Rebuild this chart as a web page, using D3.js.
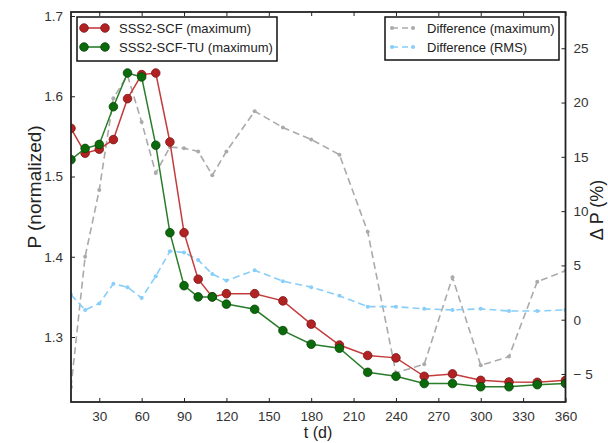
<!DOCTYPE html>
<html>
<head>
<meta charset="utf-8">
<script src="https://cdn.jsdelivr.net/npm/d3@7"></script>
<style>
  html, body { margin: 0; padding: 0; background: #fff; }
  svg { display: block; font-family: "Liberation Sans", Arial, sans-serif; }
</style>
</head>
<body>
<svg id="chart" width="608" height="443"></svg>
<script>
// Time in days
const days = [10, 20, 30, 40, 50, 60, 70, 80, 90, 100, 110, 120, 140, 160, 180, 200, 220, 240, 260, 280, 300, 320, 340, 360];

// Normalized P maxima
const scfMax = [1.560, 1.529, 1.534, 1.546, 1.597, 1.627, 1.629, 1.543, 1.430, 1.372, 1.350, 1.354,
                1.354, 1.345, 1.316, 1.290, 1.277, 1.274, 1.251, 1.254, 1.246, 1.244, 1.2435, 1.246];
const scfTuMax = [1.521, 1.535, 1.540, 1.587, 1.629, 1.624, 1.539, 1.430, 1.364, 1.350, 1.350, 1.341,
                  1.3345, 1.308, 1.291, 1.286, 1.256, 1.251, 1.242, 1.242, 1.238, 1.238, 1.2406, 1.242];

// Relative differences in percent
const diffMax = [-6.2, 5.8, 11.95, 20.4, 22.5, 18.2, 13.5, 15.9, 15.8, 15.5, 13.3, 15.5,
                 19.2, 17.7, 16.6, 15.2, 8.1, -4.9, -4.1, 3.9, -4.2, -3.4, 3.5, 4.5];
const diffRms = [2.3, 0.9, 1.5, 3.3, 3.0, 2.0, 4.0, 6.3, 6.2, 5.5, 4.2, 3.6,
                 4.55, 3.55, 3.0, 2.2, 1.2, 1.2, 1.0, 0.9, 1.0, 0.8, 0.8, 0.9];

// Tick values
const xTicks = [30, 60, 90, 120, 150, 180, 210, 240, 270, 300, 330, 360];
const yLeftTicks = [1.3, 1.4, 1.5, 1.6, 1.7];
const yRightTicks = [-5, 0, 5, 10, 15, 20, 25];

const svg = d3.select("#chart");
const box = { left: 71, right: 565.5, top: 12, bottom: 402 };

const x = d3.scaleLinear().domain([10, 360]).range([box.left, box.right]);
const yL = d3.scaleLinear().domain([1.219, 1.705]).range([box.bottom, box.top]);
const yR = d3.scaleLinear().domain([-7.58, 28.34]).range([box.bottom, box.top]);

svg.append("defs").append("clipPath").attr("id", "plotclip")
  .append("rect").attr("x", box.left).attr("y", box.top)
  .attr("width", box.right - box.left).attr("height", box.bottom - box.top);

const plot = svg.append("g").attr("clip-path", "url(#plotclip)");

// Difference series (right axis), dashed with small dots
const diffSeries = [
  { values: diffMax, color: "#aaaaaa" },
  { values: diffRms, color: "#87cefa" }
];
diffSeries.forEach(s => {
  const pts = days.map((d, i) => [d, s.values[i]]);
  plot.append("path")
    .attr("d", d3.line().x(p => x(p[0])).y(p => yR(p[1]))(pts))
    .attr("fill", "none").attr("stroke", s.color)
    .attr("stroke-width", 1.6).attr("stroke-dasharray", "7,4");
  plot.selectAll(null).data(pts).enter().append("circle")
    .attr("cx", p => x(p[0])).attr("cy", p => yR(p[1])).attr("r", 2)
    .attr("fill", s.color);
});

// P series (left axis), solid with round markers
const pSeries = [
  { values: scfMax, line: "#c43c3c", fill: "#b22222", edge: "#7e1515" },
  { values: scfTuMax, line: "#2a7d2a", fill: "#0b6b0b", edge: "#064406" }
];
pSeries.forEach(s => {
  const pts = days.map((d, i) => [d, s.values[i]]);
  plot.append("path")
    .attr("d", d3.line().x(p => x(p[0])).y(p => yL(p[1]))(pts))
    .attr("fill", "none").attr("stroke", s.line).attr("stroke-width", 1.5);
  plot.selectAll(null).data(pts).enter().append("circle")
    .attr("cx", p => x(p[0])).attr("cy", p => yL(p[1])).attr("r", 4.3)
    .attr("fill", s.fill).attr("stroke", s.edge).attr("stroke-width", 0.8);
});

// Axes with inward ticks
function styleAxis(g) {
  g.select(".domain").remove();
  g.selectAll(".tick line").attr("stroke", "#222").attr("stroke-width", 1);
  g.selectAll(".tick text").attr("fill", "#333").style("font-size", "13.5px")
    .style("font-family", "'Liberation Sans', Arial, sans-serif");
}

const xAxis = svg.append("g").attr("transform", `translate(0,${box.bottom})`)
  .call(d3.axisBottom(x).tickValues(xTicks).tickSize(-4).tickPadding(9).tickFormat(d3.format("d")));
styleAxis(xAxis);
const xTop = svg.append("g").attr("transform", `translate(0,${box.top})`)
  .call(d3.axisTop(x).tickValues(xTicks).tickSize(-4).tickFormat(""));
styleAxis(xTop);

const yAxisL = svg.append("g").attr("transform", `translate(${box.left},0)`)
  .call(d3.axisLeft(yL).tickValues(yLeftTicks).tickSize(-4).tickPadding(8).tickFormat(d3.format(".1f")));
styleAxis(yAxisL);

const yAxisR = svg.append("g").attr("transform", `translate(${box.right},0)`)
  .call(d3.axisRight(yR).tickValues(yRightTicks).tickSize(-4).tickPadding(8)
    .tickFormat(d => d < 0 ? "\u2212 " + Math.abs(d) : String(d)));
styleAxis(yAxisR);

// Frame
svg.append("rect")
  .attr("x", box.left).attr("y", box.top)
  .attr("width", box.right - box.left).attr("height", box.bottom - box.top)
  .attr("fill", "none").attr("stroke", "#222").attr("stroke-width", 1.8);

// Axis titles
svg.append("text").attr("x", 318).attr("y", 438).attr("text-anchor", "middle")
  .style("font-size", "16px").attr("fill", "#222").text("t (d)");
svg.append("text").attr("transform", "translate(41,187) rotate(-90)")
  .attr("text-anchor", "middle").style("font-size", "19px").attr("fill", "#222")
  .text("P (normalized)");
svg.append("text").attr("transform", "translate(603,210) rotate(-90)")
  .attr("text-anchor", "middle").style("font-size", "18px").attr("fill", "#222")
  .text("\u0394 P (%)");

// Legends
function legend(x0, y0, w, h, items) {
  const g = svg.append("g");
  g.append("rect").attr("x", x0).attr("y", y0).attr("width", w).attr("height", h)
    .attr("fill", "#fff").attr("stroke", "#111").attr("stroke-width", 1.5);
  items.forEach((it, i) => {
    const cy = y0 + 11 + i * 19;
    const x1 = x0 + 7, x2 = x0 + 28;
    g.append("line").attr("x1", x1).attr("x2", x2).attr("y1", cy).attr("y2", cy)
      .attr("stroke", it.line).attr("stroke-width", 1.6)
      .attr("stroke-dasharray", it.dashed ? "6,4" : null);
    [x1, x2].forEach(cx => g.append("circle").attr("cx", cx).attr("cy", cy)
      .attr("r", it.r).attr("fill", it.fill).attr("stroke", it.edge || "none").attr("stroke-width", 0.8));
    g.append("text").attr("x", x0 + 42).attr("y", cy + 4.5)
      .style("font-size", "13px").attr("fill", "#222").text(it.label);
  });
}
legend(77, 17, 200, 44, [
  { label: "SSS2-SCF (maximum)", line: pSeries[0].line, fill: pSeries[0].fill, edge: pSeries[0].edge, r: 4.3 },
  { label: "SSS2-SCF-TU (maximum)", line: pSeries[1].line, fill: pSeries[1].fill, edge: pSeries[1].edge, r: 4.3 }
]);
legend(385, 17, 174, 43, [
  { label: "Difference (maximum)", line: diffSeries[0].color, fill: diffSeries[0].color, r: 2, dashed: true },
  { label: "Difference (RMS)", line: diffSeries[1].color, fill: diffSeries[1].color, r: 2, dashed: true }
]);
</script>
</body>
</html>
